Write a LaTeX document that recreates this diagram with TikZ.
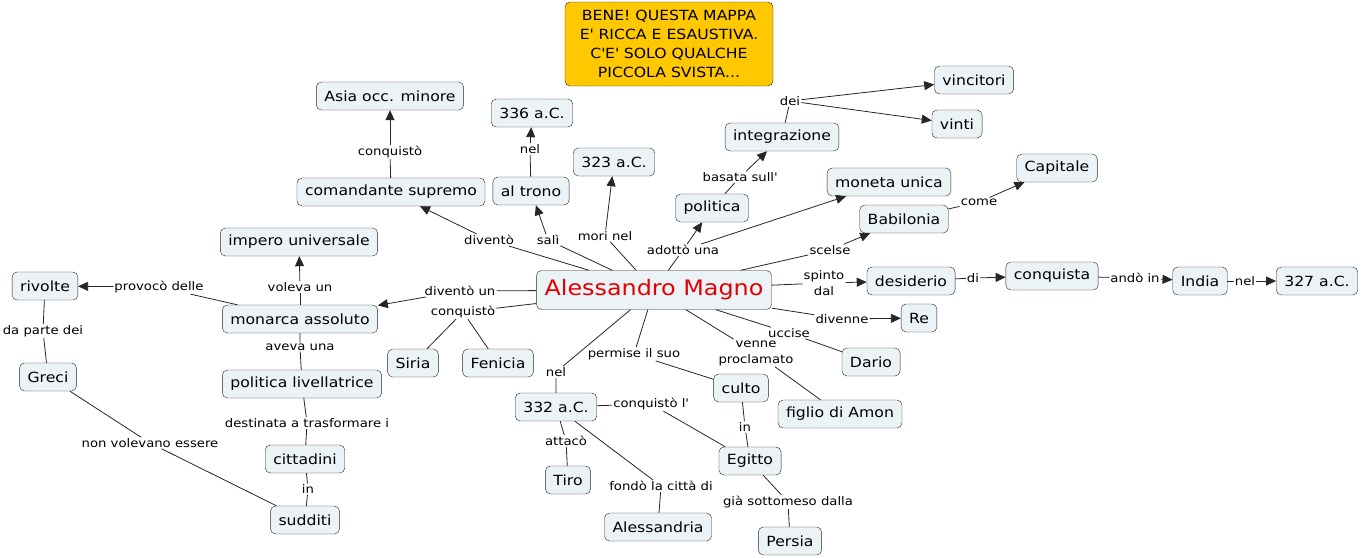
\documentclass[tikz,border=0pt]{standalone}
\usepackage{fontspec}
\setmainfont[FakeStretch=1.12]{DejaVu Sans}
\usetikzlibrary{arrows.meta}
\definecolor{sfondo}{RGB}{236,243,246}
\definecolor{giallo}{RGB}{255,200,0}
\definecolor{rosso}{RGB}{228,0,0}
\newcommand\apo{\textquotesingle}

\begin{document}
\begin{tikzpicture}[x=1pt,y=-1pt,
  concetto/.style={draw=black!85,fill=sfondo,rounded corners=5pt,inner xsep=8pt,
    minimum height=28pt,font=\fontsize{14}{16}\selectfont},
  frase/.style={inner sep=1pt,align=center,font=\fontsize{11.8}{16}\selectfont},
  linea/.style={draw=black!85,line width=0.8pt},
  freccia/.style={linea,-{Triangle[length=10pt,width=9pt]}}]
  \useasboundingbox (0,0) rectangle (1362,557);
  % nota
  \node[concetto,fill=giallo,align=center,minimum width=208pt,minimum height=84pt,
    font=\fontsize{14}{19}\selectfont] (nota) at (669,44)
    {BENE! QUESTA MAPPA\\E\apo{} RICCA E ESAUSTIVA.\\C\apo{}E\apo{} SOLO QUALCHE\\PICCOLA SVISTA...};
  % concetti
  \node[concetto,text=rosso,font=\fontsize{21.3}{24}\selectfont,minimum height=39pt] (alessandro) at (654,290) {Alessandro Magno};
  \node[concetto] (comandante) at (391,192) {comandante supremo};
  \node[concetto] (asia) at (390,96) {Asia occ. minore};
  \node[concetto] (trono) at (531,191) {al trono};
  \node[concetto] (a336) at (532,113) {336 a.C.};
  \node[concetto] (a323) at (614,162) {323 a.C.};
  \node[concetto] (politica) at (712,208) {politica};
  \node[concetto] (integrazione) at (782,137) {integrazione};
  \node[concetto] (vincitori) at (974,80) {vincitori};
  \node[concetto] (vinti) at (957,124) {vinti};
  \node[concetto] (moneta) at (889,182) {moneta unica};
  \node[concetto] (babilonia) at (904,219) {Babilonia};
  \node[concetto] (capitale) at (1057,168) {Capitale};
  \node[concetto] (desiderio) at (911,281) {desiderio};
  \node[concetto] (conquista) at (1052,276) {conquista};
  \node[concetto] (india) at (1200,281) {India};
  \node[concetto] (a327) at (1317,281) {327 a.C.};
  \node[concetto] (re) at (919,318) {Re};
  \node[concetto] (dario) at (871,362) {Dario};
  \node[concetto] (amon) at (840,414) {figlio di Amon};
  \node[concetto] (culto) at (741,388) {culto};
  \node[concetto] (egitto) at (750,461) {Egitto};
  \node[concetto] (persia) at (790,541) {Persia};
  \node[concetto] (a332) at (556,407) {332 a.C.};
  \node[concetto] (tiro) at (568,480) {Tiro};
  \node[concetto] (alessandria) at (658,527) {Alessandria};
  \node[concetto] (siria) at (413,363) {Siria};
  \node[concetto] (fenicia) at (498,363) {Fenicia};
  \node[concetto] (monarca) at (300,319) {monarca assoluto};
  \node[concetto] (impero) at (299,242) {impero universale};
  \node[concetto] (rivolte) at (45,286) {rivolte};
  \node[concetto] (greci) at (48,377) {Greci};
  \node[concetto] (livellatrice) at (302,384) {politica livellatrice};
  \node[concetto] (cittadini) at (305,459) {cittadini};
  \node[concetto] (sudditi) at (305,520) {sudditi};
  % frasi legame
  \node[frase] (fdivento) at (489,240) {diventò};
  \node[frase] (fconqasia) at (390,152) {conquistò};
  \node[frase] (fsali) at (548,240) {salì};
  \node[frase] (fnel336) at (530,149) {nel};
  \node[frase] (fmori) at (605,236) {mori nel};
  \node[frase] (fadotto) at (683,250) {adottò una};
  \node[frase] (fbasata) at (740,177) {basata sull\apo};
  \node[frase] (fdei) at (790,101) {dei};
  \node[frase] (fscelse) at (830,250) {scelse};
  \node[frase] (fcome) at (979,202) {come};
  \node[frase] (fspinto) at (824,283) {spinto\\dal};
  \node[frase] (fdi) at (973,278) {di};
  \node[frase] (fando) at (1135,278) {andò in};
  \node[frase] (fnel327) at (1245,281) {nel};
  \node[frase] (fdivenne) at (842,319) {divenne};
  \node[frase] (fuccise) at (789,333) {uccise};
  \node[frase] (fvenne) at (756,353) {venne\\proclamato};
  \node[frase] (fpermise) at (634,354) {permise il suo};
  \node[frase] (fin1) at (745,427) {in};
  \node[frase] (fnel332) at (556,372) {nel};
  \node[frase] (fconqegitto) at (651,404) {conquistò l\apo};
  \node[frase] (fattaco) at (566,441) {attacò};
  \node[frase] (ffondo) at (661,486) {fondò la città di};
  \node[frase] (fgia) at (788,502) {già sottomeso dalla};
  \node[frase] (fconqsiria) at (463,312) {conquistò};
  \node[frase] (fdiventoun) at (460,291) {diventò un};
  \node[frase] (fvoleva) at (300,287) {voleva un};
  \node[frase] (fprovoco) at (159,287) {provocò delle};
  \node[frase] (fdaparte) at (43,331) {da parte dei};
  \node[frase] (fnonvolevano) at (150,443) {non volevano essere};
  \node[frase] (faveva) at (300,347) {aveva una};
  \node[frase] (fdestinata) at (307,423) {destinata a trasformare i};
  \node[frase] (fin2) at (308,489) {in};
  % collegamenti
  \draw[linea] (alessandro) -- (fdivento); \draw[freccia] (fdivento) -- (comandante);
  \draw[linea] (comandante) -- (fconqasia); \draw[freccia] (fconqasia) -- (asia);
  \draw[linea] (alessandro) -- (fsali); \draw[freccia] (fsali) -- (trono);
  \draw[linea] (trono) -- (fnel336); \draw[freccia] (fnel336) -- (a336);
  \draw[linea] (alessandro) -- (fmori); \draw[freccia] (fmori) -- (a323);
  \draw[linea] (alessandro) -- (fadotto); \draw[freccia] (fadotto) -- (politica);
  \draw[freccia] (fadotto) -- (moneta);
  \draw[linea] (politica) -- (fbasata); \draw[freccia] (fbasata) -- (integrazione);
  \draw[linea] (integrazione) -- (fdei); \draw[freccia] (fdei) -- (vincitori);
  \draw[freccia] (fdei) -- (vinti);
  \draw[linea] (alessandro) -- (fscelse); \draw[freccia] (fscelse) -- (babilonia);
  \draw[linea] (babilonia) -- (fcome); \draw[freccia] (fcome) -- (capitale);
  \draw[linea] (alessandro) -- (fspinto); \draw[freccia] (fspinto) -- (desiderio);
  \draw[linea] (desiderio) -- (fdi); \draw[freccia] (fdi) -- (conquista);
  \draw[linea] (conquista) -- (fando); \draw[freccia] (fando) -- (india);
  \draw[linea] (india) -- (fnel327); \draw[freccia] (fnel327) -- (a327);
  \draw[linea] (alessandro) -- (fdivenne); \draw[freccia] (fdivenne) -- (re);
  \draw[linea] (alessandro) -- (fuccise) -- (dario);
  \draw[linea] (alessandro) -- (fvenne) -- (amon);
  \draw[linea] (alessandro) -- (fpermise) -- (culto);
  \draw[linea] (culto) -- (fin1) -- (egitto);
  \draw[linea] (alessandro) -- (fnel332) -- (a332);
  \draw[linea] (a332) -- (fconqegitto) -- (egitto);
  \draw[linea] (a332) -- (fattaco) -- (tiro);
  \draw[linea] (a332) -- (ffondo) -- (alessandria);
  \draw[linea] (egitto) -- (fgia) -- (persia);
  \draw[linea] (alessandro) -- (fconqsiria) -- (siria);
  \draw[linea] (fconqsiria) -- (fenicia);
  \draw[linea] (alessandro) -- (fdiventoun); \draw[freccia] (fdiventoun) -- (monarca);
  \draw[linea] (monarca) -- (fvoleva); \draw[freccia] (fvoleva) -- (impero);
  \draw[linea] (monarca) -- (fprovoco); \draw[freccia] (fprovoco) -- (rivolte);
  \draw[linea] (rivolte) -- (fdaparte) -- (greci);
  \draw[linea] (greci) -- (fnonvolevano) -- (sudditi);
  \draw[linea] (monarca) -- (faveva) -- (livellatrice);
  \draw[linea] (livellatrice) -- (fdestinata) -- (cittadini);
  \draw[linea] (cittadini) -- (fin2) -- (sudditi);
\end{tikzpicture}
\end{document}
